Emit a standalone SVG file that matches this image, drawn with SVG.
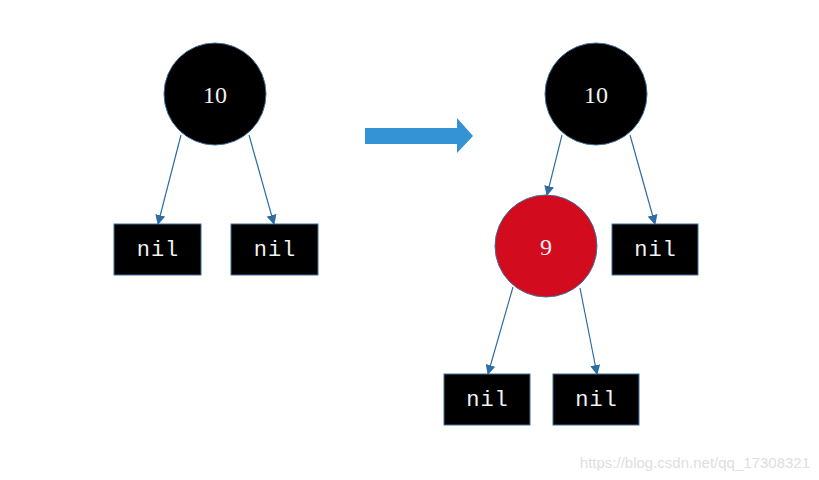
<svg xmlns="http://www.w3.org/2000/svg" width="819" height="480" viewBox="0 0 819 480">
<defs>
<style>
.blk{fill:#000;stroke:#41719c;stroke-width:1}
.red{fill:#d30b1e;stroke:#41719c;stroke-width:1}
.num{fill:#f2f2f2;font-family:"Liberation Serif",serif;font-size:24px;text-anchor:middle}
.nil{fill:#f2f2f2;font-family:"Liberation Mono",monospace;font-size:22px;text-anchor:middle;letter-spacing:1px}
.edge{stroke:#2e6da4;stroke-width:1.2;fill:none;marker-end:url(#ah)}
</style>
<marker id="ah" viewBox="0 0 10 10" refX="9" refY="5" markerWidth="10" markerHeight="10" markerUnits="userSpaceOnUse" orient="auto">
<path d="M0,0 L10,5 L0,10 z" fill="#2e6da4"/>
</marker>
</defs>
<rect width="819" height="480" fill="#fff"/>
<g id="connectors">
<line class="edge" x1="181" y1="135" x2="158" y2="224"/>
<line class="edge" x1="249" y1="135" x2="274" y2="224"/>
<line class="edge" x1="562" y1="135" x2="547" y2="195"/>
<line class="edge" x1="630" y1="135" x2="655" y2="224"/>
<line class="edge" x1="513" y1="287" x2="488" y2="374"/>
<line class="edge" x1="580" y1="288" x2="597" y2="374"/>
</g>
<g id="bigarrow">
<path d="M365,128 L457,128 L457,118 L473,136 L457,153 L457,144 L365,144 z" fill="#3393d5"/>
</g>
<g id="n10a"><circle class="blk" cx="215" cy="94" r="51"/><text class="num" x="215" y="103">10</text></g>
<g id="nil1"><rect class="blk" x="114" y="224" width="87" height="51"/><text class="nil" x="158" y="256">nil</text></g>
<g id="nil2"><rect class="blk" x="231" y="224" width="87" height="51"/><text class="nil" x="275" y="256">nil</text></g>
<g id="n10b"><circle class="blk" cx="596" cy="94" r="51"/><text class="num" x="596" y="103">10</text></g>
<g id="n9"><circle class="red" cx="546" cy="246" r="51"/><text class="num" x="546" y="255">9</text></g>
<g id="nil3"><rect class="blk" x="612" y="224" width="86" height="51"/><text class="nil" x="655.5" y="256">nil</text></g>
<g id="nil4"><rect class="blk" x="444" y="374" width="86" height="51"/><text class="nil" x="487.5" y="406">nil</text></g>
<g id="nil5"><rect class="blk" x="553" y="374" width="86" height="51"/><text class="nil" x="596.5" y="406">nil</text></g>
<text x="810" y="468" fill="#dedede" font-family="Liberation Sans,Arial,sans-serif" font-size="15" text-anchor="end">https://blog.csdn.net/qq_17308321</text>
</svg>
